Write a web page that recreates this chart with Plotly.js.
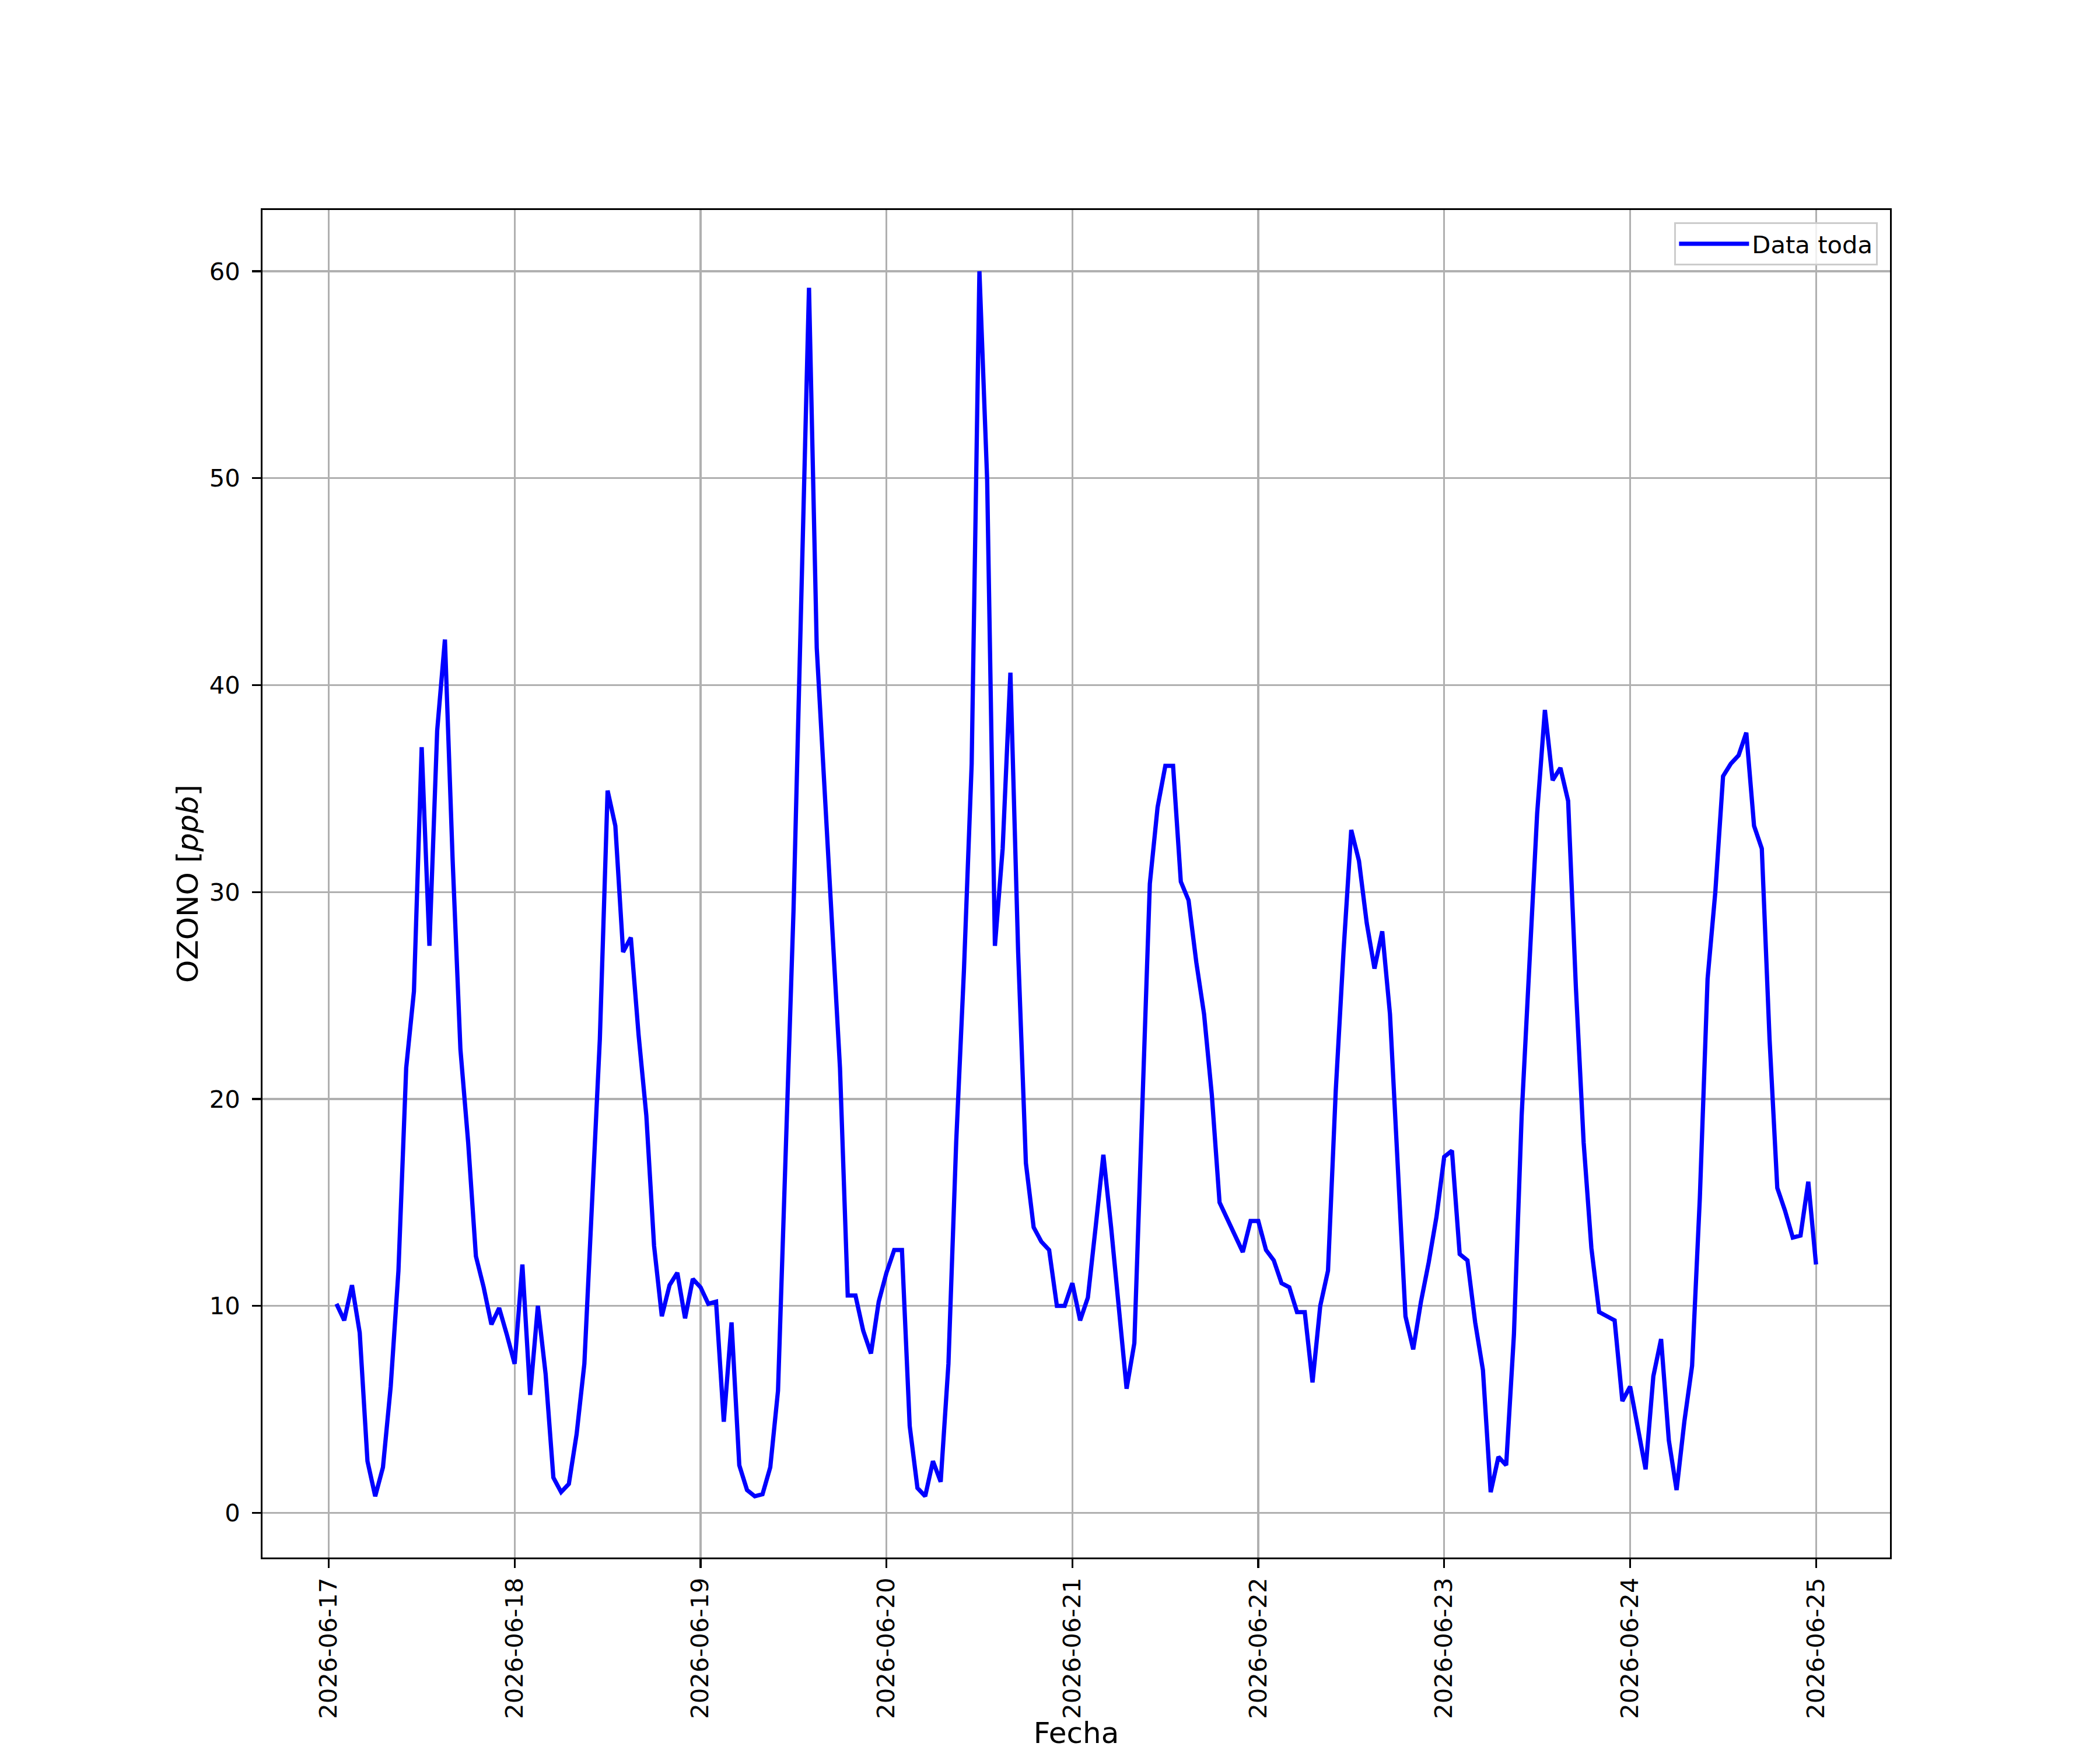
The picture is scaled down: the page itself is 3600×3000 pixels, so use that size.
<!DOCTYPE html>
<html>
<head>
<meta charset="utf-8">
<script src="https://cdn.plot.ly/plotly-3.0.1.min.js"></script>
<style>html,body{margin:0;padding:0;background:#fff;}</style>
</head>
<body>
<div id="chart" style="width:3600px;height:3000px;"></div>
<script>
// Hourly ozone readings, each array covers hours 01:00 .. 24:00 (next day 00:00) of the given day
const days = ["2026-06-17","2026-06-18","2026-06-19","2026-06-20","2026-06-21","2026-06-22","2026-06-23","2026-06-24"];
const ozone_0617 = [10.1,9.3,11.0,8.7,2.5,0.8,2.2,6.1,11.7,21.5,25.2,37.0,27.4,37.8,42.2,31.5,22.4,17.9,12.4,10.9,9.1,9.9,8.6,7.2];
const ozone_0618 = [12.0,5.7,10.0,6.7,1.7,1.0,1.4,3.8,7.2,15.6,22.9,34.9,33.2,27.1,27.8,23.1,19.2,12.9,9.5,11.0,11.6,9.4,11.3,10.9];
const ozone_0619 = [10.1,10.2,4.4,9.2,2.3,1.1,0.8,0.9,2.2,5.9,17.0,29.1,44.1,59.2,41.8,34.9,27.5,21.5,10.5,10.5,8.8,7.7,10.2,11.6];
const ozone_0620 = [12.7,12.7,4.2,1.2,0.8,2.5,1.5,7.2,17.9,26.2,36.2,60.0,49.9,27.4,32.1,40.6,27.1,16.9,13.8,13.1,12.7,10.0,10.0,11.1];
const ozone_0621 = [9.3,10.4,13.8,17.3,13.8,10.0,6.0,8.2,18.8,30.4,34.1,36.1,36.1,30.5,29.6,26.6,24.1,20.2,15.0,14.2,13.4,12.6,14.1,14.1];
const ozone_0622 = [12.7,12.2,11.1,10.9,9.7,9.7,6.3,10.0,11.7,20.4,27.1,33.0,31.5,28.5,26.3,28.1,24.1,17.1,9.5,7.9,10.2,12.1,14.3,17.2];
const ozone_0623 = [17.5,12.5,12.2,9.2,6.9,1.0,2.7,2.3,8.6,19.2,26.2,33.8,38.8,35.4,36.0,34.4,25.4,17.9,12.8,9.7,9.5,9.3,5.4,6.1];
const ozone_0624 = [4.1,2.1,6.6,8.4,3.5,1.1,4.4,7.1,15.2,25.8,30.0,35.6,36.2,36.6,37.7,33.2,32.1,22.9,15.7,14.6,13.3,13.4,16.0,12.0];
const dailySeries = [ozone_0617,ozone_0618,ozone_0619,ozone_0620,ozone_0621,ozone_0622,ozone_0623,ozone_0624];
const seriesName = "Data toda";
const xTitle = "Fecha";
const yTitle = "OZONO [<i>ppb</i>]";
const yTicks = [0,10,20,30,40,50,60];

// build timestamps (ms) and values
const xs = [], ys = [];
days.forEach((d, i) => {
  const base = Date.parse(d + "T00:00:00Z");
  dailySeries[i].forEach((v, h) => {
    xs.push(base + (h + 1) * 3600000);
    ys.push(v);
  });
});
function iso(ms){ return new Date(ms).toISOString().replace("T"," ").replace("Z",""); }
const xSpan = xs[xs.length-1] - xs[0];
const xRange = [iso(xs[0] - 0.05*xSpan), iso(xs[xs.length-1] + 0.05*xSpan)];
const yMin = Math.min(...ys), yMax = Math.max(...ys);
const ySpan = yMax - yMin;
const yRange = [yMin - 0.05*ySpan, yMax + 0.05*ySpan];
const tickVals = days.concat(["2026-06-25"]);

const FONT = "DejaVu Sans, sans-serif";
const trace = {
  x: xs.map(iso), y: ys, type: "scatter", mode: "lines", name: seriesName,
  line: {color: "#0000ff", width: 7.3}
};
const layout = {
  width: 3600, height: 3000,
  paper_bgcolor: "#ffffff", plot_bgcolor: "#ffffff",
  font: {family: FONT, size: 41.7, color: "#000"},
  margin: {l: 450, r: 360, t: 360, b: 330, autoexpand: false},
  showlegend: true,
  legend: {
    x: 0.9925, y: 0.9909, xanchor: "right", yanchor: "top",
    bgcolor: "rgba(255,255,255,0.8)", bordercolor: "#cccccc", borderwidth: 3.3,
    itemwidth: 120,
    font: {family: FONT, size: 41.7, color: "#000"}
  },
  xaxis: {
    type: "date", range: xRange,
    tickmode: "array", tickvals: tickVals, ticktext: tickVals,
    tickangle: -90,
    ticks: "outside", ticklen: 14.6, tickwidth: 3.3, tickcolor: "#000",
    ticklabelstandoff: 0,
    showgrid: true, gridcolor: "#b0b0b0", gridwidth: 3.3,
    showline: true, linecolor: "#000", linewidth: 3.3, mirror: true,
    zeroline: false, automargin: false,
    tickfont: {family: FONT, size: 41.7, color: "#000"},
    title: {text: xTitle, font: {family: FONT, size: 50, color: "#000"}, standoff: 37}
  },
  yaxis: {
    range: yRange,
    tickmode: "array", tickvals: yTicks,
    ticks: "outside", ticklen: 14.6, tickwidth: 3.3, tickcolor: "#000",
    ticklabelstandoff: 12,
    showgrid: true, gridcolor: "#b0b0b0", gridwidth: 3.3,
    showline: true, linecolor: "#000", linewidth: 3.3, mirror: true,
    zeroline: false, automargin: false,
    tickfont: {family: FONT, size: 41.7, color: "#000"},
    title: {text: yTitle, font: {family: FONT, size: 50, color: "#000"}, standoff: 4}
  }
};
Plotly.newPlot("chart", [trace], layout, {staticPlot: true, displayModeBar: false});
</script>
</body>
</html>
